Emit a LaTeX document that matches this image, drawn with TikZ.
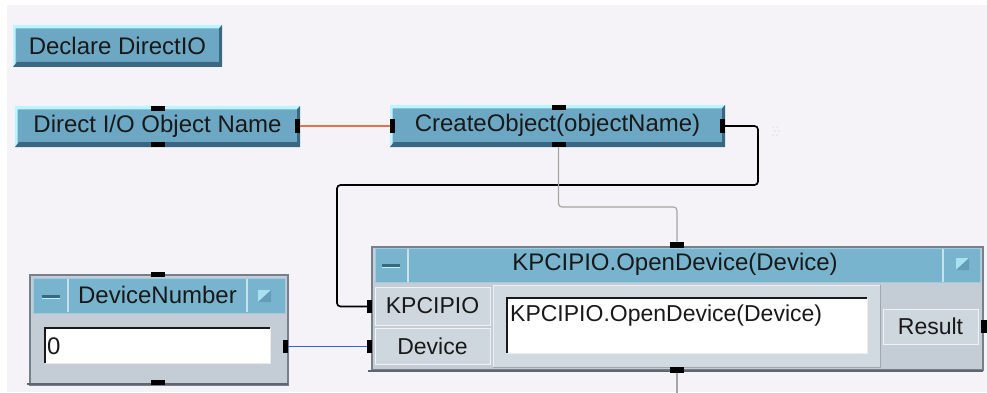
\documentclass[tikz,border=0pt]{standalone}
\usepackage{fontspec}
\setmainfont{Liberation Sans}
\definecolor{bgc}{RGB}{245,243,247}
\definecolor{boxblue}{RGB}{108,168,196}
\definecolor{titleblue}{RGB}{120,180,206}
\definecolor{hilite}{RGB}{188,244,255}
\definecolor{shadowc}{RGB}{58,104,130}
\definecolor{bodygray}{RGB}{196,205,213}
\definecolor{labgray}{RGB}{206,214,222}
\definecolor{panelgray}{RGB}{210,218,225}
\definecolor{framegray}{RGB}{118,128,138}
\definecolor{wireorange}{RGB}{240,110,70}
\definecolor{wireblue}{RGB}{50,100,230}
\definecolor{wiregray}{RGB}{165,165,165}
\definecolor{txtc}{RGB}{25,25,25}
\newcommand\mybevel[1]{%
  \fill[hilite] (#1.south west) -- (#1.north west) -- (#1.north east)
    -- ([xshift=-3pt,yshift=-3.5pt]#1.north east) -- ([xshift=2.5pt,yshift=-3.5pt]#1.north west)
    -- ([xshift=2.5pt,yshift=2pt]#1.south west) -- cycle;
  \fill[shadowc] (#1.south west) -- (#1.south east) -- (#1.north east)
    -- ([xshift=-3pt,yshift=-3.5pt]#1.north east) -- ([xshift=-3pt,yshift=5pt]#1.south east)
    -- ([xshift=4pt,yshift=5pt]#1.south west) -- cycle;
}
\tikzset{
  txt/.style={font=\fontsize{24}{28}\selectfont, text=txtc},
  ltxt/.style={font=\fontsize{23}{27}\selectfont, text=txtc},
  bluebox/.style={fill=boxblue, inner sep=0pt, outer sep=0pt, txt},
  termh/.style={fill=black, inner sep=0pt, outer sep=0pt, minimum width=14pt, minimum height=5pt},
  termv/.style={fill=black, inner sep=0pt, outer sep=0pt, minimum width=5pt, minimum height=13pt},
  frame/.style={fill=bodygray, draw=framegray, line width=1.2pt, inner sep=0pt, outer sep=0pt},
  titlebar/.style={fill=titleblue, draw=titleblue!70!white, line width=0.8pt, inner sep=0pt, outer sep=0pt, txt},
  labbox/.style={fill=labgray, draw=white!70!labgray, line width=1pt, inner sep=0pt, outer sep=0pt, ltxt},
  field/.style={fill=white, draw=white!85!gray, line width=1pt, inner sep=0pt, outer sep=0pt},
  wire/.style={line width=1.2pt, rounded corners=3.5pt},
}
\begin{document}
\begin{tikzpicture}[x=1pt,y=-1pt]
\useasboundingbox (0,0) rectangle (987,393);
\fill[white] (0,0) rectangle (987,393);
\fill[bgc] (7,5) rectangle (987,392);

% ---- Declare DirectIO
\node[bluebox, minimum width=209pt, minimum height=42pt] (decl) at (117.5,46) {};
\mybevel{decl}
\node[txt] (decltxt) at (117.5,45.5) {Declare DirectIO};

% ---- Direct I/O Object Name
\node[bluebox, minimum width=285pt, minimum height=41pt] (dio) at (157.5,126.5) {};
\mybevel{dio}
\node[txt] (diotxt) at (157.5,126) {Direct I/O Object Name};
\node[termh] (dioT) at (158,108.5) {};
\node[termh] (dioB) at (158,144.5) {};
\node[termv] (dioR) at (297.5,126) {};

% ---- CreateObject
\node[bluebox, minimum width=335pt, minimum height=42pt] (co) at (557.5,126) {};
\mybevel{co}
\node[txt] (cotxt) at (557.5,125.5) {CreateObject(objectName)};
\node[termv] (coL) at (392.5,126) {};
\node[termv] (coR) at (722.5,126) {};
\node[termh] (coT) at (558.5,107.5) {};
\node[termh] (coB) at (558.5,144.5) {};

% faint marker
\foreach \px/\py in {773/127,777/127,775/131,779/131,773/135,777/135}
  \fill[gray!45] (\px,\py) circle (0.7pt);

% ---- DeviceNumber
\node[frame, minimum width=258pt, minimum height=110pt] (dn) at (159,330) {};
\draw[framegray!80!black, line width=2pt] (27,384) -- (288,384);
\node[titlebar, minimum width=252pt, minimum height=35pt] (dntitle) at (159,295.5) {};
\node[txt] (dntxt) at (157.5,295) {DeviceNumber};
\draw[white!60!titleblue, line width=1.2pt] (68,279) -- (68,312) (247,279) -- (247,312);
\fill[shadowc] (42,294.5) rectangle (60,297.5);
\fill[hilite] (42,297.5) rectangle (60,298.5);
\fill[hilite!70!titleblue] (258,290) rectangle (271,302);
\fill[titleblue!70!shadowc] (271,290) -- (271,302) -- (258,302) -- cycle;
\node[field, minimum width=225pt, minimum height=35pt] (dnval) at (157.5,345.5) {};
\draw[txtc, line width=2pt] (dnval.south west) -- (dnval.north west) -- (dnval.north east);
\node[txt, anchor=west, inner sep=0pt] (dnvaltxt) at (47,346) {0};
\node[termh] (dnT) at (158,274.5) {};
\node[termh] (dnB) at (158,382.5) {};
\node[termv] (dnR) at (285.5,346.5) {};

% ---- KPCIPIO.OpenDevice
\node[frame, minimum width=611pt, minimum height=123pt] (kp) at (677.5,308.5) {};
\draw[framegray!80!black, line width=2pt] (368,371) -- (983,371);
\node[titlebar, minimum width=605pt, minimum height=34pt] (kptitle) at (677.5,265) {};
\node[txt] (kptxt) at (675,264.5) {KPCIPIO.OpenDevice(Device)};
\draw[white!60!titleblue, line width=1.2pt] (408,249) -- (408,282) (943,249) -- (943,282);
\fill[shadowc] (382,264) rectangle (400,267);
\fill[hilite] (382,267) rectangle (400,268);
\fill[hilite!70!titleblue] (956,258) rectangle (969,270);
\fill[titleblue!70!shadowc] (969,258) -- (969,270) -- (956,270) -- cycle;
\node[labbox, minimum width=115pt, minimum height=38pt] (kpin1) at (432.5,306) {KPCIPIO};
\node[labbox, minimum width=115pt, minimum height=36pt] (kpin2) at (432.5,346) {Device};
\node[fill=panelgray, draw=white!60!panelgray, line width=1pt, inner sep=0pt, outer sep=0pt,
      minimum width=387pt, minimum height=82pt] (kppanel) at (686.5,326) {};
\draw[framegray!70, line width=1pt] (kppanel.south west) -- (kppanel.south east) -- (kppanel.north east);
\node[field, minimum width=360pt, minimum height=55pt] (kpfield) at (687,325.5) {};
\draw[txtc, line width=2pt] (kpfield.south west) -- (kpfield.north west) -- (kpfield.north east);
\node[ltxt, anchor=north west, inner sep=0pt] (kpfieldtxt) at (510,305) {KPCIPIO.OpenDevice(Device)};
\node[labbox, minimum width=95pt, minimum height=35pt] (kpout) at (930.5,326.5) {Result};
\node[termv] (kpT1) at (369.5,306.5) {};
\node[termv] (kpT2) at (369.5,346.5) {};
\node[termv, minimum width=6pt] (kpR) at (984,326.5) {};
\node[termh, minimum height=6pt] (kpT) at (677,244.5) {};
\node[termh, minimum height=6pt] (kpB) at (677,370) {};
\coordinate (offbottom) at (677,393);

% ---- wires
\draw[wireorange, line width=1.2pt] (dioR.east) -- (coL.west);
\draw[wire, black, line width=1.7pt] (coR.east) -- (758,126) -- (758,185) -- (337,185) -- (337,306.5) -- (kpT1.west);
\draw[wire, wiregray] (coB.south) -- (558.5,207) -- (677,207) -- (kpT.north);
\draw[wireblue, line width=1.4pt] (dnR.east) -- (kpT2.west);
\draw[wiregray, line width=1.2pt] (kpB.south) -- (offbottom);
\end{tikzpicture}
\end{document}
